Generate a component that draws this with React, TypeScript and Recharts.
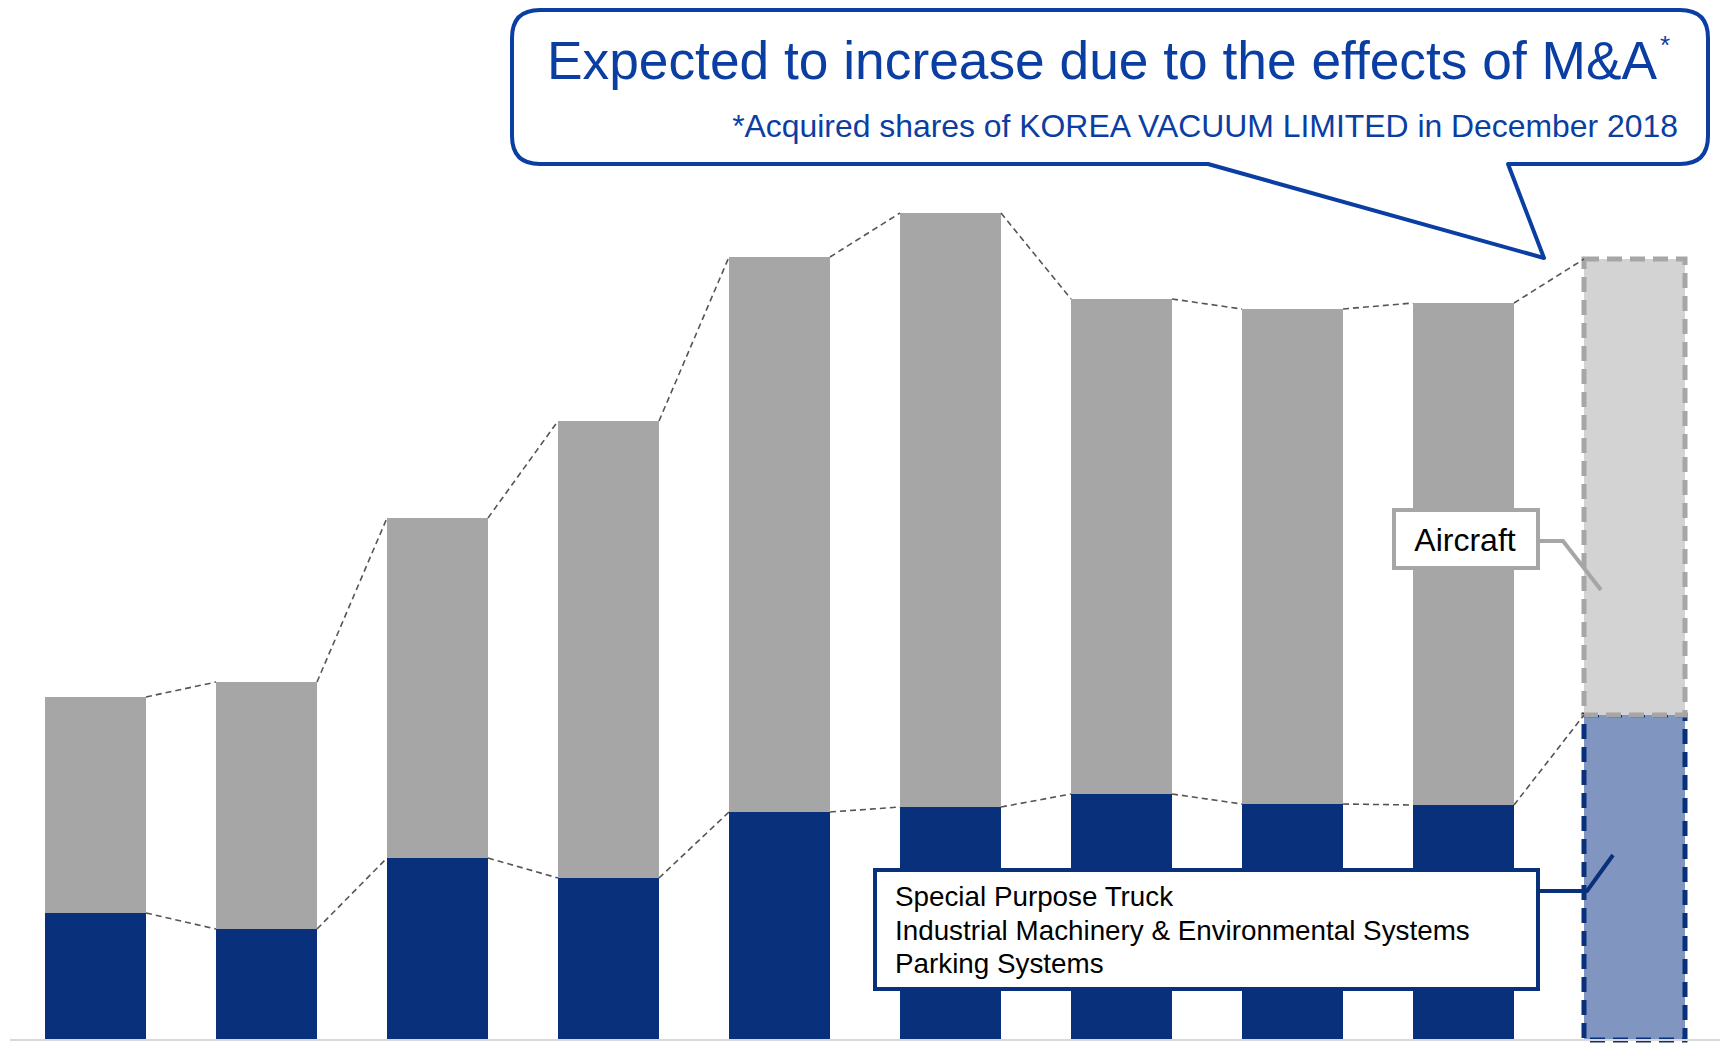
import { BarChart, Bar, XAxis, YAxis, Cell, ReferenceLine } from "recharts";

const periods = ["1", "2", "3", "4", "5", "6", "7", "8", "9", "10"];
// lower segment: Special Purpose Truck / Industrial Machinery & Env. / Parking Systems
const groundSales = [127, 111, 182, 162, 228, 233, 246, 236, 235, 325];
// upper segment: Aircraft
const aircraftSales = [216, 247, 340, 457, 555, 594, 495, 495, 502, 456];

const BLUE = "#08307b";
const GRAY = "#a6a6a6";
const HALF = 101 / 2 / 171;
const FONT = "Liberation Sans, Arial, sans-serif";

const chartData = periods.map((p, i) => ({
  pos: i,
  period: p,
  ground: groundSales[i],
  aircraft: aircraftSales[i],
  total: groundSales[i] + aircraftSales[i],
}));

function Connectors() {
  const lines = [];
  for (let i = 0; i < chartData.length - 1; i++) {
    const a = chartData[i];
    const b = chartData[i + 1];
    for (const key of ["ground", "total"] as const) {
      lines.push(
        <ReferenceLine
          key={`${key}-${i}`}
          segment={[
            { x: a.pos + HALF, y: a[key] },
            { x: b.pos - HALF, y: b[key] },
          ]}
          stroke="#555"
          strokeWidth={1.6}
          strokeDasharray="6 4"
          ifOverflow="visible"
        />
      );
    }
  }
  return lines;
}

function Annotations() {
  const ink = "#0b3ea3";
  return (
    <svg
      width={1720}
      height={1045}
      style={{ position: "absolute", left: 0, top: 0, pointerEvents: "none" }}
    >
      <path
        d="M 540 10 H 1680 Q 1708 10 1708 38 V 136 Q 1708 164 1680 164 H 1508 L 1544 258 L 1208 164 H 540 Q 512 164 512 136 V 38 Q 512 10 540 10 Z"
        fill="#fff"
        stroke={ink}
        strokeWidth={4}
        strokeLinejoin="round"
      />
      <text x={1657} y={79} textAnchor="end" fontFamily={FONT} fontSize={53.3} fill={ink}>
        Expected to increase due to the effects of M&amp;A
      </text>
      <text x={1660} y={54} fontFamily={FONT} fontSize={26} fill={ink}>
        *
      </text>
      <text x={1678} y={137} textAnchor="end" fontFamily={FONT} fontSize={31.9} fill={ink}>
        *Acquired shares of KOREA VACUUM LIMITED in December 2018
      </text>

      <polyline points="1538,541 1563,541 1601,590" fill="none" stroke={GRAY} strokeWidth={4} />
      <rect x={1394} y={510} width={144} height={58} fill="#fff" stroke={GRAY} strokeWidth={4} />
      <text x={1465} y={551} textAnchor="middle" fontFamily={FONT} fontSize={32} fill="#000">
        Aircraft
      </text>

      <polyline points="1538,891 1587,891 1613,855" fill="none" stroke={BLUE} strokeWidth={4} />
      <rect x={875} y={870} width={663} height={119} fill="#fff" stroke={BLUE} strokeWidth={4} />
      <text fontFamily={FONT} fontSize={27.8} fill="#000">
        <tspan x={895} y={906}>Special Purpose Truck</tspan>
        <tspan x={895} y={940}>Industrial Machinery &amp; Environmental Systems</tspan>
        <tspan x={895} y={973}>Parking Systems</tspan>
      </text>
    </svg>
  );
}

export default function App() {
  const last = chartData.length - 1;
  return (
    <div style={{ position: "absolute", left: 0, top: 0, width: 1720, height: 1045, background: "#fff" }}>
      <BarChart
        width={1720}
        height={1045}
        data={chartData}
        margin={{ top: 40, right: 0, left: 10, bottom: 4 }}
        barSize={101}
      >
        <XAxis
          dataKey="pos"
          type="number"
          domain={[-0.5, 9.5]}
          tick={false}
          tickLine={false}
          height={1}
          axisLine={{ stroke: "#d9d9d9", strokeWidth: 2 }}
        />
        <YAxis hide domain={[0, 1000]} />
        <Bar dataKey="ground" stackId="s" isAnimationActive={false}>
          {chartData.map((d, i) => (
            <Cell
              key={d.period}
              fill={i === last ? "#8096c0" : BLUE}
              stroke={i === last ? BLUE : "none"}
              strokeWidth={i === last ? 5 : 0}
              strokeDasharray={i === last ? "15 8" : undefined}
            />
          ))}
        </Bar>
        <Bar dataKey="aircraft" stackId="s" isAnimationActive={false}>
          {chartData.map((d, i) => (
            <Cell
              key={d.period}
              fill={i === last ? "#d3d3d3" : GRAY}
              stroke={i === last ? GRAY : "none"}
              strokeWidth={i === last ? 5 : 0}
              strokeDasharray={i === last ? "15 8" : undefined}
            />
          ))}
        </Bar>
        {Connectors()}
      </BarChart>
      <Annotations />
    </div>
  );
}
